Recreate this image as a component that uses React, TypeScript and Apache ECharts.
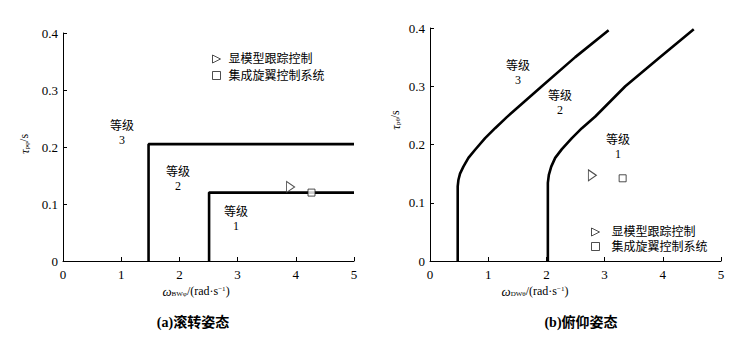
import React, { useEffect, useRef } from 'react';
import * as echarts from 'echarts';

// ---------- data ----------
const xTickValues = [0, 1, 2, 3, 4, 5];
const yTickValues = [0, 0.1, 0.2, 0.3, 0.4];
const seriesNames = ['显模型跟踪控制', '集成旋翼控制系统'];

// (a) roll
const rollLevel23Boundary = [[1.47, 0], [1.47, 0.205], [5, 0.205]];
const rollLevel12Boundary = [[2.51, 0], [2.51, 0.12], [5, 0.12]];
const rollModelTracking = [[3.91, 0.13]];
const rollIntegrated = [[4.27, 0.12]];

// (b) pitch
const pitchLevel23Boundary = [
  [0.476, 0], [0.476, 0.128], [0.488, 0.139], [0.516, 0.15], [0.574, 0.162],
  [0.66, 0.177], [0.775, 0.191], [0.947, 0.211], [1.119, 0.228], [1.32, 0.247],
  [1.922, 0.3], [2.496, 0.35], [3.069, 0.396],
];
const pitchLevel12Boundary = [
  [2.025, 0], [2.025, 0.134], [2.042, 0.148], [2.083, 0.162], [2.151, 0.177],
  [2.266, 0.192], [2.438, 0.211], [2.61, 0.228], [2.84, 0.248], [3.356, 0.3],
  [3.93, 0.348], [4.532, 0.398],
];
const pitchModelTracking = [[2.79, 0.147]];
const pitchIntegrated = [[3.31, 0.142]];

const levelLabels = ['等级\n3', '等级\n2', '等级\n1'];
const captions = ['(a)滚转姿态', '(b)俯仰姿态'];

// ---------- styles ----------
const FONT = "'Liberation Serif', 'Times New Roman', 'DejaVu Serif', 'Noto Sans CJK SC', serif";
const TRI = 'path://M0,0L10,5L0,10Z';
const SQR = 'path://M0,0L7,0L7,7L0,7Z';

function axisPair(gridIndex: number) {
  const x = {
    type: 'value', gridIndex, min: 0, max: 5, interval: 1,
    axisLine: { show: true, lineStyle: { color: '#000', width: 1 } },
    axisTick: { show: true, inside: true, length: 4, lineStyle: { color: '#000' } },
    axisLabel: {
      color: '#000', fontFamily: FONT, fontSize: 13, margin: 7,
      customValues: xTickValues,
    },
    splitLine: { show: false },
  };
  const y = {
    type: 'value', gridIndex, min: 0, max: 0.4, interval: 0.1,
    axisLine: { show: true, lineStyle: { color: '#000', width: 1 } },
    axisTick: { show: true, inside: true, length: 4, lineStyle: { color: '#000' } },
    axisLabel: {
      color: '#000', fontFamily: FONT, fontSize: 13, margin: 5,
      formatter: (v: number) => (v === 0 ? '0' : v.toFixed(1)),
      customValues: yTickValues,
    },
    splitLine: { show: false },
  };
  return { x, y };
}

function lineSeries(data: number[][], idx: number) {
  return {
    type: 'line', xAxisIndex: idx, yAxisIndex: idx, data, showSymbol: false, symbol: 'none',
    lineStyle: { color: '#000', width: 2.6 }, silent: true, z: 2,
  };
}
function markerSeries(name: string, data: number[][], idx: number, tri: boolean) {
  return {
    type: 'scatter', name, xAxisIndex: idx, yAxisIndex: idx, data,
    symbol: tri ? TRI : SQR, symbolSize: tri ? [8, 11] : 7,
    itemStyle: { color: '#fff', borderColor: '#222', borderWidth: 1 }, z: 3,
  };
}

function txt(text: string, x: number, y: number, size = 12, extra: any = {}) {
  return {
    type: 'text', x, y, silent: true,
    style: {
      text, fontFamily: FONT, fontSize: size, fill: '#000',
      align: 'center', verticalAlign: 'middle', textAlign: 'center', textVerticalAlign: 'middle',
      lineHeight: 14, ...extra,
    },
  };
}

const richAxis = {
  a: { fontFamily: FONT, fontSize: 12, fill: '#000', lineHeight: 12, verticalAlign: 'middle' },
  i: { fontFamily: FONT, fontSize: 13, fill: '#000', lineHeight: 12, fontStyle: 'italic', verticalAlign: 'middle' },
  s: { fontFamily: FONT, fontSize: 7, fill: '#000', lineHeight: 12, verticalAlign: 'bottom' },
  p: { fontFamily: FONT, fontSize: 7, fill: '#000', lineHeight: 12, verticalAlign: 'top' },
};

function legend(left: number, top: number, gap: number, textPad: number) {
  return {
    show: true, orient: 'vertical', left, top, itemWidth: 8, itemHeight: 10, itemGap: gap,
    selectedMode: false,
    textStyle: { fontFamily: FONT, fontSize: 12, color: '#000', lineHeight: 12, padding: [0, 0, 0, textPad] },
    data: [
      { name: seriesNames[0], icon: TRI, itemStyle: { color: '#fff', borderColor: '#222', borderWidth: 1 } },
      { name: seriesNames[1], icon: SQR, itemStyle: { color: '#fff', borderColor: '#222', borderWidth: 1 } },
    ],
  };
}

export default function App() {
  const ref = useRef<HTMLDivElement>(null);
  useEffect(() => {
    document.body.style.margin = '0';
    const chart = echarts.init(ref.current!, null, { renderer: 'svg' });
    const a = axisPair(0);
    const b = axisPair(1);
    chart.setOption({
      animation: false,
      backgroundColor: '#fff',
      grid: [
        { left: 63, top: 33, width: 291, height: 228 },
        { left: 430, top: 28, width: 291, height: 233 },
      ],
      xAxis: [a.x, b.x],
      yAxis: [a.y, b.y],
      legend: [legend(207, 48, 4.5, 3), legend(586, 221, 2.5, 7)],
      series: [
        lineSeries(rollLevel23Boundary, 0),
        lineSeries(rollLevel12Boundary, 0),
        markerSeries(seriesNames[0], rollModelTracking, 0, true),
        markerSeries(seriesNames[1], rollIntegrated, 0, false),
        lineSeries(pitchLevel23Boundary, 1),
        lineSeries(pitchLevel12Boundary, 1),
        markerSeries(seriesNames[0], pitchModelTracking, 1, true),
        markerSeries(seriesNames[1], pitchIntegrated, 1, false),
      ],
      graphic: [
        txt(levelLabels[0], 122, 133),
        txt(levelLabels[1], 178, 179),
        txt(levelLabels[2], 236, 219),
        txt(levelLabels[0], 518, 73),
        txt(levelLabels[1], 560, 103),
        txt(levelLabels[2], 618, 147),
        txt(captions[0], 193, 322, 14, { fontWeight: 'bold' }),
        txt(captions[1], 581, 322, 14, { fontWeight: 'bold' }),
        {
          type: 'text', x: 196, y: 291, silent: true,
          style: { text: '{i|ω}{s|BWφ}{a|/(rad·s}{p|−1}{a|)}', rich: richAxis,
            align: 'center', verticalAlign: 'middle', textAlign: 'center', textVerticalAlign: 'middle' },
        },
        {
          type: 'text', x: 535, y: 291, silent: true,
          style: { text: '{i|ω}{s|DWθ}{a|/(rad·s}{p|−1}{a|)}', rich: richAxis,
            align: 'center', verticalAlign: 'middle', textAlign: 'center', textVerticalAlign: 'middle' },
        },
        {
          type: 'text', x: 24, y: 144, rotation: Math.PI / 2, silent: true,
          style: { text: '{i|τ}{s|pφ}{a|/s}', rich: richAxis,
            align: 'center', verticalAlign: 'middle', textAlign: 'center', textVerticalAlign: 'middle' },
        },
        {
          type: 'text', x: 395, y: 120, rotation: Math.PI / 2, silent: true,
          style: { text: '{i|τ}{s|pθ}{a|/s}', rich: richAxis,
            align: 'center', verticalAlign: 'middle', textAlign: 'center', textVerticalAlign: 'middle' },
        },
      ],
    });
    return () => chart.dispose();
  }, []);
  return <div ref={ref} style={{ width: 749, height: 341 }} />;
}
